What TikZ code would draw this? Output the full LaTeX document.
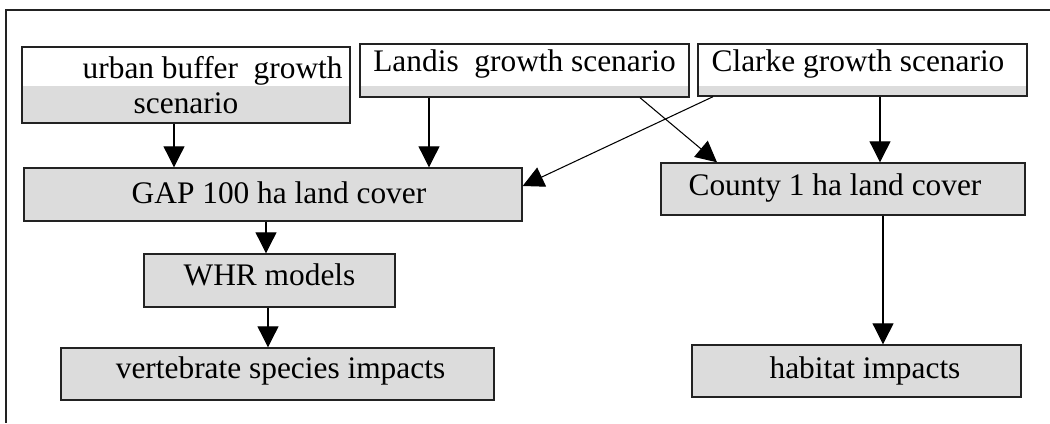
\documentclass[tikz,border=0pt]{standalone}
\usepackage{fontspec}
\setmainfont{Liberation Serif}
\usetikzlibrary{arrows.meta}
\definecolor{boxgray}{HTML}{DCDCDC}
\definecolor{edgegray}{HTML}{222222}

\begin{document}
\begin{tikzpicture}[x=0.02cm, y=-0.02cm,
    every node/.style={font=\fontsize{17.86pt}{19.84pt}\selectfont},
    box/.style={draw=edgegray, line width=0.8pt, fill=boxgray, inner sep=0pt, text height=#1, text depth=0pt},
    box/.default=0.7em,
    scenbox/.style={draw=edgegray, line width=0.8pt, fill=white, inner sep=0pt, text height=0.7em, text depth=0.58em,
      path picture={\fill[boxgray] (path picture bounding box.south west) rectangle ([yshift=#1]path picture bounding box.south east);}},
    arr/.style={-{Triangle[length=0.42cm,width=0.42cm]}, line width=0.6pt}]
              \useasboundingbox (0,0) rectangle (1050,423);
              \draw[edgegray, line width=0.8pt] (1050,10) -- (6,10) -- (6,423);
              % scenarios
              \node[scenbox=0.74cm, align=center, text height={}, text depth={}, minimum width=6.56cm, minimum height=1.52cm] (urban) at (186,85) {\hspace*{1.7em}urban buffer\ \ growth\\scenario};
              \node[scenbox=0.22cm, minimum width=6.58cm, minimum height=1.06cm] (landis) at (524.5,70.5) {Landis\ \ growth scenario};
              \node[scenbox=0.2cm, text depth=0.53em, minimum width=6.58cm, minimum height=1.04cm] (clarke) at (862.5,70) {Clarke growth scenario\hspace*{0.18cm}};
              % land cover and models
              \node[box=0.98em, minimum width=9.96cm, minimum height=1.06cm] (gap) at (273,194.5) {\hspace*{0.24cm}GAP 100 ha land cover};
              \node[box, minimum width=7.28cm, minimum height=1.04cm] (county) at (843,189) {County 1 ha land cover\hspace*{0.32cm}};
              \node[box=0.6em, minimum width=5.02cm, minimum height=1.06cm] (whr) at (269.5,280.5) {WHR models};
              \node[box=0.55em, minimum width=8.66cm, minimum height=1.04cm] (vert) at (277.5,374) {\hspace*{0.12cm}vertebrate species impacts};
              \node[box=0.83em, minimum width=6.58cm, minimum height=1.04cm] (habitat) at (856.5,371) {\hspace*{0.34cm}habitat impacts};
              % arrows
              \draw[arr] (174,0 |- urban.south) -- (174,0 |- gap.north);
              \draw[arr] (429,0 |- landis.south) -- (429,0 |- gap.north);
              \draw[arr] (713,0 |- clarke.south) -- (gap.east |- 0,186);
              \draw[arr] (640,0 |- landis.south) -- (717,0 |- county.north);
              \draw[arr] (880,0 |- clarke.south) -- (880,0 |- county.north);
              \draw[arr] (266,0 |- gap.south) -- (266,0 |- whr.north);
              \draw[arr] (268,0 |- whr.south) -- (268,0 |- vert.north);
              \draw[arr] (883,0 |- county.south) -- (883,0 |- habitat.north);
          \end{tikzpicture}
\end{document}
